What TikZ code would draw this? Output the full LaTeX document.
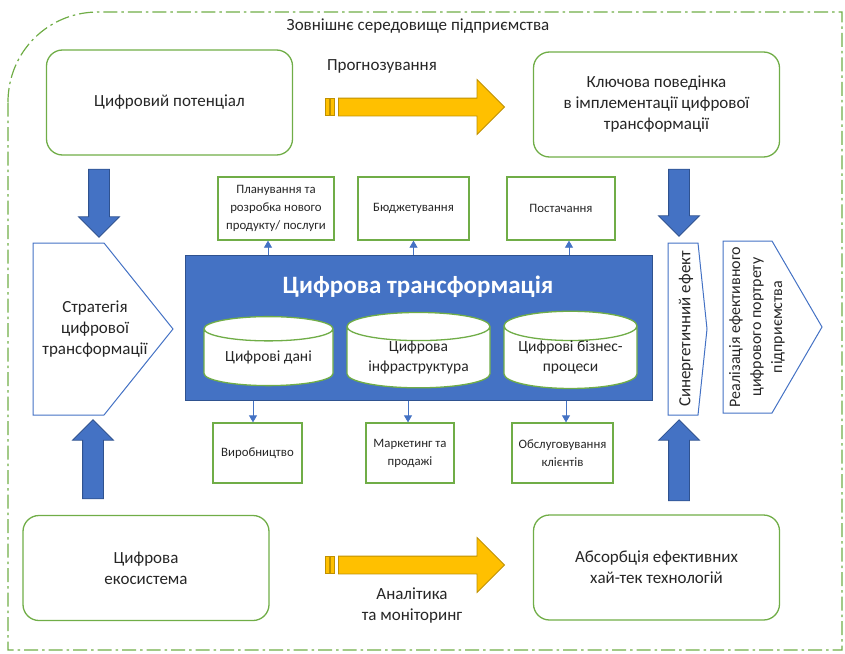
\documentclass[tikz,border=0pt]{standalone}
\usepackage{fontspec}
\setmainfont{Carlito}
\usetikzlibrary{shapes.geometric,shapes.arrows,arrows.meta}
\definecolor{grn}{HTML}{70AD47}
\definecolor{blu}{HTML}{4472C4}
\definecolor{bluedge}{HTML}{2F528F}
\definecolor{gold}{HTML}{FFC000}
\definecolor{goldedge}{HTML}{BF9000}
\definecolor{txt}{HTML}{262626}

\begin{document}
\begin{tikzpicture}[x=1pt,y=-1pt,
	bigbox/.style={draw=grn, line width=1.3pt, rounded corners=16pt, text=txt, align=center, minimum width=246pt, minimum height=105pt, font=\fontsize{17}{21}\selectfont},
	smallbox/.style={draw=grn, line width=1.3pt, text=txt, align=center, inner sep=0pt, font=\fontsize{12.8}{18}\selectfont},
	drum/.style={cylinder, shape border rotate=90, aspect=0.28, draw=grn, line width=1.3pt, fill=white, text=txt, align=center, minimum height=69pt, inner sep=0pt, font=\fontsize{15.5}{19.5}\selectfont},
	bluearrow/.style={single arrow, fill=blu, draw=bluedge, line width=0.8pt, inner sep=10pt, single arrow head extend=10pt, minimum width=40pt},
	goldarrow/.style={single arrow, fill=gold, draw=goldedge, line width=0.8pt, inner sep=8.5pt, single arrow head extend=18.5pt, minimum width=54pt, minimum height=166pt},
	stripe/.style={fill=gold, draw=goldedge, line width=0.6pt},
	thinarrow/.style={draw=blu, line width=0.8pt, -{Triangle[width=8pt,length=7pt]}},
	outline/.style={draw=blu, line width=1pt},
	label/.style={text=txt, align=center, font=\fontsize{17}{21}\selectfont}]
	\useasboundingbox (0,0) rectangle (845,653);
	% outer frame
	\draw[grn, line width=1.2pt, dash pattern=on 14pt off 4pt on 2.5pt off 4pt]
		(8,102) .. controls (8,52) and (48,12) .. (98,12) -- (842,12) -- (842,650) -- (8,650) -- cycle;
	\node[label] (env) at (418,26) {Зовнішнє середовище підприємства};
	% corner boxes
	\node[bigbox] (pot) at (169.5,102.5) {Цифровий потенціал};
	\node[bigbox] (key) at (656.5,104.5) {Ключова поведінка\\в імплементації цифрової\\трансформації};
	\node[bigbox] (eco) at (146,568) {Цифрова\\екосистема};
	\node[bigbox] (abs) at (656.5,567.5) {Абсорбція ефективних\\хай-тек технологій};
	% gold arrows
	\node[goldarrow] (fore) at (417,107) {};
	\draw[stripe] (325,98.5) rectangle (329,115.5);
	\draw[stripe] (330,98.5) rectangle (334,115.5);
	\node[label] (foretxt) at (382,66) {Прогнозування};
	\node[goldarrow] (anal) at (417,565) {};
	\draw[stripe] (325,556.5) rectangle (329,573.5);
	\draw[stripe] (330,556.5) rectangle (334,573.5);
	\node[label] (analtxt) at (412,606) {Аналітика\\та моніторинг};
	% blue arrows
	\node[bluearrow, rotate=-90, minimum height=68pt] (a1) at (99,198) {};
	\node[bluearrow, rotate=90, minimum height=79pt] (a2) at (93,464.5) {};
	\node[bluearrow, rotate=-90, minimum height=67pt] (a3) at (679,197.5) {};
	\node[bluearrow, rotate=90, minimum height=81pt] (a4) at (679,465.5) {};
	% strategy
	\draw[outline] (33,243) -- (104,243) -- (173,329) -- (104,415) -- (33,415) -- cycle;
	\node[label] (strat) at (95,329) {Стратегія\\цифрової\\трансформації};
	% core
	\node[fill=blu, draw=bluedge, line width=1pt, minimum width=467pt, minimum height=145pt] (core) at (418.5,327.5) {};
	\node[text=white, font=\bfseries\fontsize{25}{29}\selectfont] (title) at (418,287) {Цифрова трансформація};
	\node[drum, minimum width=129pt] (data) at (268.5,357.5) {Цифрові дані};
	\node[drum, minimum width=143pt] (infra) at (418.5,357.5) {Цифрова\\інфраструктура};
	\node[drum, minimum width=133pt] (proc) at (570.5,357.5) {Цифрові бізнес-\\процеси};
	% functions
	\node[smallbox, minimum width=116pt, minimum height=63pt] (plan) at (276,208.5) {Планування та\\розробка нового\\продукту/ послуги};
	\node[smallbox, minimum width=111pt, minimum height=63pt] (budg) at (413.5,208.5) {Бюджетування};
	\node[smallbox, minimum width=108pt, minimum height=63pt] (supp) at (561,208.5) {Постачання};
	\node[smallbox, minimum width=89pt, minimum height=60pt] (prod) at (257.5,453) {Виробництво};
	\node[smallbox, minimum width=88pt, minimum height=60pt] (mark) at (410,453) {Маркетинг та\\продажі};
	\node[smallbox, minimum width=101pt, minimum height=60pt] (serv) at (562.5,453) {Обслуговування\\клієнтів};
	\draw[thinarrow] ([xshift=-8pt]core.north -| plan.south) -- ([xshift=-8pt]plan.south);
	\draw[thinarrow] (core.north -| budg.south) -- (budg.south);
	\draw[thinarrow] ([xshift=8pt]core.north -| supp.south) -- ([xshift=8pt]supp.south);
	\draw[thinarrow] ([xshift=-4.5pt]core.south -| prod.north) -- ([xshift=-4.5pt]prod.north);
	\draw[thinarrow] ([xshift=-2pt]core.south -| mark.north) -- ([xshift=-2pt]mark.north);
	\draw[thinarrow] ([xshift=3.5pt]core.south -| serv.north) -- ([xshift=3.5pt]serv.north);
	% right side
	\draw[outline] (668,243) -- (698,243) -- (707,329) -- (698,415) -- (668,415) -- cycle;
	\node[label, rotate=90] (syn) at (686,329) {Синергетичний ефект};
	\draw[outline] (723,241) -- (772,241) -- (822,327) -- (772,413) -- (723,413) -- cycle;
	\node[label, rotate=90, font=\fontsize{16}{21}\selectfont] (real) at (757,327) {Реалізація ефективного\\цифрового портрету\\підприємства};
\end{tikzpicture}
\end{document}
